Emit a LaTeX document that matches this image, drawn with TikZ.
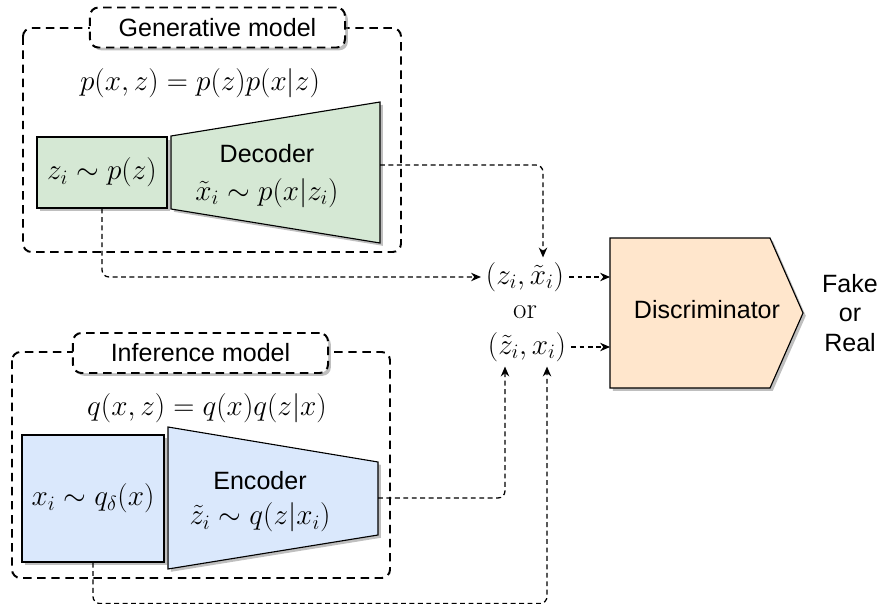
\documentclass[tikz,border=0pt]{standalone}
\usepackage{fix-cm}
\usepackage{amsmath}
\usepackage{fontspec}
\usepackage{tikz}
\usetikzlibrary{arrows.meta,shadows}
\newfontfamily\arialfont{Liberation Sans}
\definecolor{genfill}{HTML}{D5E8D4}
\definecolor{inffill}{HTML}{DAE8FC}
\definecolor{discfill}{HTML}{FFE6CC}

\begin{document}
\begin{tikzpicture}[x=0.025cm,y=-0.025cm,
    txt/.style={font={\arialfont\fontsize{17.8}{21}\selectfont}},
    mth/.style={font={\fontsize{20.8}{25}\selectfont}},
    shade/.style={drop shadow={shadow xshift=2pt,shadow yshift=-2pt,fill=black!50,opacity=0.5}},
    group/.style={line width=1.4pt,dash pattern=on 6pt off 4pt,rounded corners=6pt},
    title/.style={draw,group,fill=white,shade,txt,minimum width=6.375cm,minimum height=1cm},
    box/.style={draw,line width=0.8pt,shade,mth,inner sep=0pt},
    link/.style={line width=0.9pt,dash pattern=on 3.5pt off 2.5pt,rounded corners=5pt,-{Stealth[length=7pt,width=6pt]}}]
      \useasboundingbox (0,0) rectangle (883,604);

      \draw[group] (23,28) rectangle (401,252);
      \draw[group] (12,352) rectangle (390,578);
      \node[title] (gentitle) at (217.5,27.5) {Generative model};
      \node[title] (inftitle) at (200.5,353) {Inference model};
      \node[mth] (pjoint) at (200,83) {$p(x,z) = p(z)p(x|z)$};
      \node[mth] (qjoint) at (207,408) {$q(x,z) = q(x)q(z|x)$};

      \node[box,fill=genfill,minimum width=3.25cm,minimum height=1.775cm] (zbox) at (102,172.5) {$z_i \sim p(z)$};
      \filldraw[line width=0.8pt,fill=genfill,shade] (171,136) -- (380,102) -- (380,243) -- (171,209) -- cycle;
      \node[txt,align=center] (decoder) at (267,176) {Decoder\\[6pt]{\fontsize{20.8}{25}\selectfont$\tilde{x}_i \sim p(x|z_i)$}};
      \coordinate (decout) at (380,165);

      \node[box,fill=inffill,minimum width=3.55cm,minimum height=3.175cm] (xbox) at (93,498.5) {$x_i \sim q_\delta(x)$};
      \filldraw[line width=0.8pt,fill=inffill,shade] (168,427) -- (378,462) -- (378,535) -- (168,569) -- cycle;
      \node[txt,align=center] (encoder) at (260,502) {Encoder\\[4pt]{\fontsize{20.8}{25}\selectfont$\tilde{z}_i \sim q(z|x_i)$}};
      \coordinate (encout) at (378,498);

      \node[mth] (pairgen) at (525,277) {$(z_i,\tilde{x}_i)$};
      \node[mth] (ortxt) at (525,312) {or};
      \node[mth] (pairinf) at (527,347) {$(\tilde{z}_i,x_i)$};

      \filldraw[line width=0.8pt,fill=discfill,shade] (610,238) -- (770,238) -- (803,313) -- (770,388) -- (610,388) -- cycle;
      \node[txt] (disc) at (707,310) {Discriminator};
      \coordinate (discin) at (610,313);
      \node[txt,align=center] (verdict) at (850,313) {Fake\\or\\Real};

      \draw[link] (zbox.south) |- (pairgen.west);
      \draw[link] (decout) -| ([xshift=0.45cm]pairgen.north);
      \draw[link] (encout) -| ([xshift=-0.55cm]pairinf.south);
      \draw[link] (xbox.south) -- ++(0,41) -| ([xshift=0.5cm]pairinf.south);
      \draw[link] (pairgen.east) -- (pairgen.east -| discin);
      \draw[link] (pairinf.east) -- (pairinf.east -| discin);
    \end{tikzpicture}
\end{document}
